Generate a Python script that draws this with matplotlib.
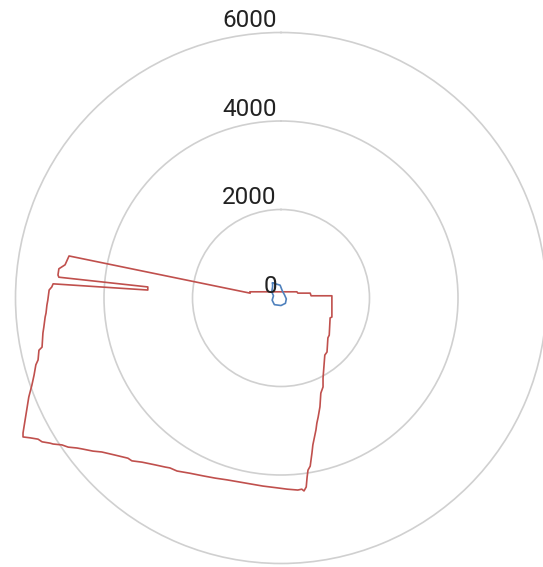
import numpy as np
import matplotlib
matplotlib.use("Agg")
import matplotlib.pyplot as plt

# Track positions relative to the origin, in metres (east, north)
red_east = [-700, -4790, -4880, -5020, -5040, -5020, -3010, -3010, -5150, -5180,
            -5240, -5270, -5290, -5310, -5330, -5360, -5380, -5400, -5470, -5490,
            -5540, -5580, -5630, -5700, -5740, -5790, -5830, -5830,
            -5670, -5490, -5400, -5220, -5150, -4950, -4810, -4610, -4500, -4250,
            -4050, -3750, -3460, -3370, -3140, -2850, -2620, -2510, -2350, -2060,
            -1760, -1490, -1220, -930, -700, -410, -90, 140, 380, 470, 520,
            570, 590, 610, 660, 700, 720, 790, 810, 840, 880, 900, 950, 950,
            990, 1040, 1060, 1090, 1110, 1150, 1150, 680, 660, 380, 360, -700]
red_north = [110, 950, 750, 660, 520, 470, 250, 180, 320, 250,
             180, -50, -160, -340, -430, -660, -790, -1110, -1180, -1400,
             -1510, -1740, -1970, -2240, -2490, -2800, -3050, -3140,
             -3160, -3190, -3250, -3280, -3300, -3320, -3370, -3390, -3410, -3460,
             -3480, -3550, -3620, -3680, -3710, -3770, -3820, -3840, -3910, -3960,
             -4020, -4070, -4110, -4160, -4200, -4250, -4290, -4320, -4340, -4320, -4360,
             -4270, -4050, -3890, -3800, -3500, -3320, -2980, -2830, -2690, -2460, -2150, -2010, -1810,
             -1290, -1220, -900, -840, -450, -430, 50, 50, 110, 110, 140, 140]

blue_east = [-190, -20, 30, 80, 120, 100, 0, -150, -200, -170, -210, -190, -190]
blue_north = [340, 290, 160, 70, -20, -120, -170, -150, -50, 50, 140, 250, 340]

radius_ticks = [0, 2000, 4000, 6000]
radius_labels = ["0", "2000", "4000", "6000"]


def to_polar(east, north):
    e = np.asarray(east, dtype=float)
    n = np.asarray(north, dtype=float)
    return np.arctan2(e, n), np.hypot(e, n)


fig = plt.figure(figsize=(5.43, 5.67), dpi=100)
ax = fig.add_axes([15.5 / 543, 3.5 / 567, 531 / 543, 531 / 567], projection="polar")
ax.set_theta_zero_location("N")
ax.set_theta_direction(-1)
ax.set_ylim(0, 6000)
ax.set_yticks(radius_ticks)
ax.set_yticklabels([])
ax.set_xticks([])
ax.spines["polar"].set_visible(False)
ax.grid(True, axis="y", color="#d0d0d0", linewidth=1.2)
for gl in ax.yaxis.get_gridlines():
    gl.set_clip_on(False)
ax.set_facecolor("white")

th, r = to_polar(red_east, red_north)
ax.plot(th, r, color="#c0504d", linewidth=1.2, clip_on=False, zorder=3)
th, r = to_polar(blue_east, blue_north)
ax.plot(th, r, color="#4f81bd", linewidth=1.2, clip_on=False, zorder=3)

for val, lab in zip(radius_ticks, radius_labels):
    ax.annotate(lab, xy=(0, val), xytext=(-3, 8.5), textcoords="offset points",
                ha="right", va="center", fontsize=17.5, family="Roboto",
                color="#222222", zorder=4, annotation_clip=False)

fig.savefig("out.png", dpi=100)
